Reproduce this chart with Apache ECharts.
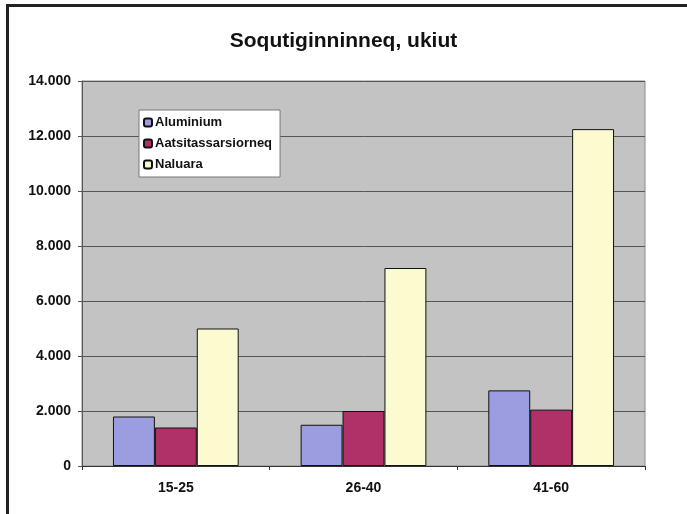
<!DOCTYPE html>
<html>
<head>
<meta charset="utf-8">
<script src="https://cdn.jsdelivr.net/npm/echarts@6/dist/echarts.min.js"></script>
<style>
  html, body { margin: 0; padding: 0; background: #fff; }
  #wrap { position: relative; width: 687px; height: 514px; }
  #chart { width: 687px; height: 514px; }
  #frame {
    position: absolute; left: 6px; top: 4px; right: 0; bottom: 0;
    border-left: 3px solid #222; border-top: 3px solid #222;
    pointer-events: none;
  }
</style>
</head>
<body>
<div id="wrap">
  <div id="chart"></div>
  <div id="frame"></div>
</div>
<script>
// age groups
const categories = ['15-25', '26-40', '41-60']
const aluminium = [1800, 1500, 2750]
const aatsitassarsiorneq = [1400, 2000, 2050]
const naluara = [5000, 7200, 12250]

const chart = echarts.init(document.getElementById('chart'))

const fmt = v => v === 0 ? '0' : v.toString().replace(/\B(?=(\d{3})+(?!\d))/g, '.')

const barStyle = color => ({
  color: color,
  borderColor: '#111',
  borderWidth: 1
})

chart.setOption({
  animation: false,
  textStyle: { fontFamily: 'Liberation Sans, Arial, sans-serif' },
  title: {
    text: 'Soqutiginninneq, ukiut',
    left: 'center',
    top: 26,
    textStyle: { fontSize: 21, fontWeight: 'bold', color: '#111' }
  },
  legend: {
    left: 139,
    top: 110,
    orient: 'vertical',
    itemWidth: 8,
    itemHeight: 8,
    itemGap: 8,
    padding: [6, 8, 6, 4],
    backgroundColor: '#fff',
    borderColor: '#777',
    borderWidth: 1,
    textStyle: { fontSize: 13, fontWeight: 'bold', color: '#111', padding: [0, 0, 0, -2] },
    data: ['Aluminium', 'Aatsitassarsiorneq', 'Naluara']
  },
  grid: {
    left: 82,
    right: 42,
    top: 81,
    bottom: 48,
    show: true,
    backgroundColor: '#c3c3c3',
    borderColor: '#8a8a8a',
    borderWidth: 1
  },
  xAxis: {
    type: 'category',
    data: categories,
    axisLine: { lineStyle: { color: '#333' } },
    axisTick: { show: true, length: 4, lineStyle: { color: '#333' } },
    axisLabel: { fontSize: 14, fontWeight: 'bold', color: '#111', margin: 15 }
  },
  yAxis: {
    type: 'value',
    min: 0,
    max: 14000,
    interval: 2000,
    axisLine: { show: true, lineStyle: { color: '#555' } },
    axisTick: { show: true, length: 4, lineStyle: { color: '#555' } },
    splitLine: { lineStyle: { color: '#555', width: 1 } },
    axisLabel: { fontSize: 14, fontWeight: 'bold', color: '#111', margin: 11, formatter: fmt }
  },
  series: [
    {
      name: 'Aluminium', type: 'bar', data: aluminium,
      barGap: '0%', barCategoryGap: '33%',
      itemStyle: barStyle('#9c9ce0')
    },
    {
      name: 'Aatsitassarsiorneq', type: 'bar', data: aatsitassarsiorneq,
      itemStyle: barStyle('#b03068')
    },
    {
      name: 'Naluara', type: 'bar', data: naluara,
      itemStyle: barStyle('#fbfbcf')
    }
  ]
})
</script>
</body>
</html>
